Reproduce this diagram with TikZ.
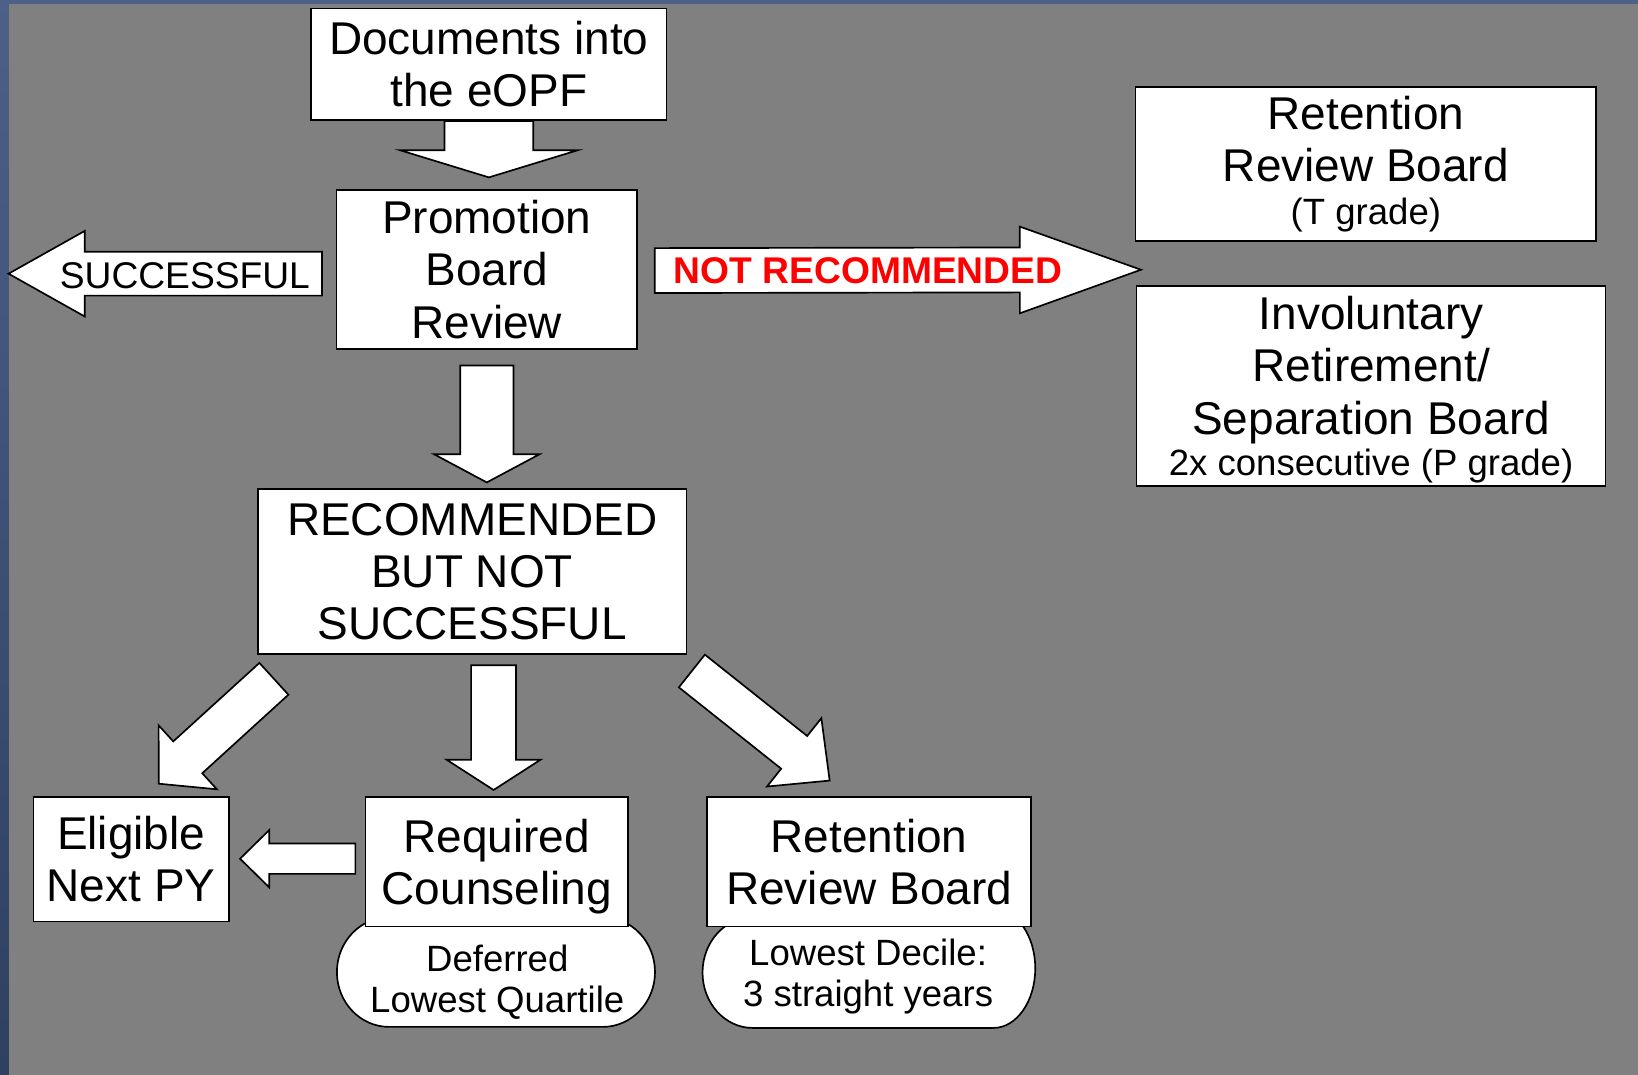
\documentclass[tikz,border=0pt]{standalone}
\usepackage{fontspec}
\setmainfont{Liberation Sans}
\usetikzlibrary{calc}
\definecolor{bggray}{HTML}{808080}
\definecolor{edgetop}{HTML}{4C6088}
\definecolor{edgebot}{HTML}{2F4060}
\definecolor{notred}{HTML}{FF0000}
\newcommand\bigf{\fontsize{22}{25}\selectfont}
\newcommand\smallf{\fontsize{17.5}{19.5}\selectfont}
\newcommand\labf{\fontsize{17.8}{20}\selectfont}
% block arrow: start, tip, half shaft, half head, head length
\newcommand\barrow[5]{%
  \coordinate (ba-h) at ($(#2)!#5!(#1)$);
  \draw[blockarr] ($(#1)!#3!90:(#2)$) -- ($(ba-h)!#3!-90:(#1)$) -- ($(ba-h)!#4!-90:(#1)$) -- (#2)
     -- ($(ba-h)!#4!90:(#1)$) -- ($(ba-h)!#3!90:(#1)$) -- ($(#1)!#3!-90:(#2)$) -- cycle;}
\begin{document}
\begin{tikzpicture}[x=0.5pt,y=-0.5pt,
  box/.style={draw=black, fill=white, line width=0.8pt, inner sep=0pt, align=center, font=\bigf},
  pill/.style={draw=black, fill=white, line width=0.8pt},
  blockarr/.style={draw=black, fill=white, line width=0.8pt, line join=miter},
  small/.style={align=center, font=\smallf, inner sep=0pt}]
\useasboundingbox (0,0) rectangle (1568,1029);
\fill[bggray] (0,0) rectangle (1568,1029);
\shade[top color=edgetop, bottom color=edgebot] (0,0) rectangle (8.6,1029);
\fill[edgetop] (0,0) rectangle (1568,4);

% pills (behind boxes; their tops are hidden by the boxes)
\draw[pill] (372.5,878) -- (577,878)
  arc[start angle=90, end angle=-90, x radius=25pt, y radius=26.25pt]
  -- (372.5,983)
  arc[start angle=270, end angle=90, x radius=25pt, y radius=26.25pt] -- cycle;
\draw[pill] (720.5,878) -- (951,870)
  arc[start angle=90, end angle=-90, x radius=20pt, y radius=28.5pt]
  -- (720.5,984)
  arc[start angle=270, end angle=90, x radius=24pt, y radius=26.5pt] -- cycle;

% boxes
\node[box, minimum width=170pt, minimum height=53.5pt] (docs) at (468,61.5) {Documents into\\the eOPF};
\node[box, minimum width=144pt, minimum height=76pt] (promo) at (466,258) {Promotion\\Board\\Review};
\node[box, minimum width=220.5pt, minimum height=74pt] (rrbt) at (1307.5,157) {Retention\\Review Board\\[-4.5pt]{\smallf (T grade)}};
\node[box, minimum width=224.5pt, minimum height=95.5pt] (invol) at (1312.5,369.5) {\rule{0pt}{19.75pt}Involuntary\\Retirement/\\Separation Board\\[-5pt]{\smallf 2x consecutive (P grade)}};
\node[box, minimum width=205pt, minimum height=79pt] (rbns) at (452,547) {RECOMMENDED\\BUT NOT\\SUCCESSFUL};
\node[box, minimum width=93.5pt, minimum height=59.5pt] (elig) at (125.5,822.5) {Eligible\\Next PY};
\node[box, minimum width=125.5pt, minimum height=62pt] (reqc) at (475.5,825) {Required\\\raisebox{0pt}[\height][0pt]{Counseling}};
\node[box, minimum width=155pt, minimum height=62pt] (rrb) at (832,825) {Retention\\Review Board};

% pill texts
\node[small] (deftxt) at (476,940) {Deferred\\Lowest Quartile};
\node[small] (dectxt) at (831,935) {Lowest Decile:\\3 straight years};

% arrow end points
\coordinate (a1s) at (docs.south);
\coordinate (a1t) at ($(docs.south)+(0,54)$);
\coordinate (a2s) at ($(promo.south)+(0,15)$);
\coordinate (a2t) at ($(promo.south)+(0,127)$);
\coordinate (a3s) at ($(promo.west)+(-13,4)$);
\coordinate (a3t) at ($(promo.west)+(-313,4)$);
\coordinate (a4s) at ($(promo.east)+(16,1)$);
\coordinate (a4t) at ($(invol.north west)+(5,-15)$);
\coordinate (a5s) at ($(rbns.south west)+(16,23)$);
\coordinate (a5t) at ($(elig.north)+(26.5,-12)$);
\coordinate (a6s) at ($(rbns.south)+(20.5,10)$);
\coordinate (a6t) at ($(reqc.north)+(-3,-6)$);
\coordinate (a7s) at ($(rbns.south east)+(4.5,15.5)$);
\coordinate (a7t) at ($(rrb.north west)+(118,-15)$);
\coordinate (a8s) at ($(reqc.west)+(-9,-3)$);
\coordinate (a8t) at ($(elig.east)+(10,-0.5)$);

\barrow{a1s}{a1t}{21.25pt}{42.5pt}{13pt}
\barrow{a2s}{a2t}{12.75pt}{25.25pt}{13.5pt}
\barrow{a3s}{a3t}{10.5pt}{20.5pt}{36.5pt}
\barrow{a4s}{a4t}{10.75pt}{20.75pt}{58pt}
\barrow{a5s}{a5t}{10.3pt}{20.7pt}{18.75pt}
\barrow{a6s}{a6t}{10.75pt}{22.5pt}{14.5pt}
\barrow{a7s}{a7t}{10pt}{20.9pt}{21.7pt}
\barrow{a8s}{a8t}{7.25pt}{13.75pt}{14pt}

% arrow labels
\node[font=\labf, inner sep=0pt] (succ) at (177,264) {SUCCESSFUL};
\node[font=\labf\bfseries, text=notred, inner sep=0pt] (notrec) at (831,259) {NOT RECOMMENDED};
\end{tikzpicture}
\end{document}
